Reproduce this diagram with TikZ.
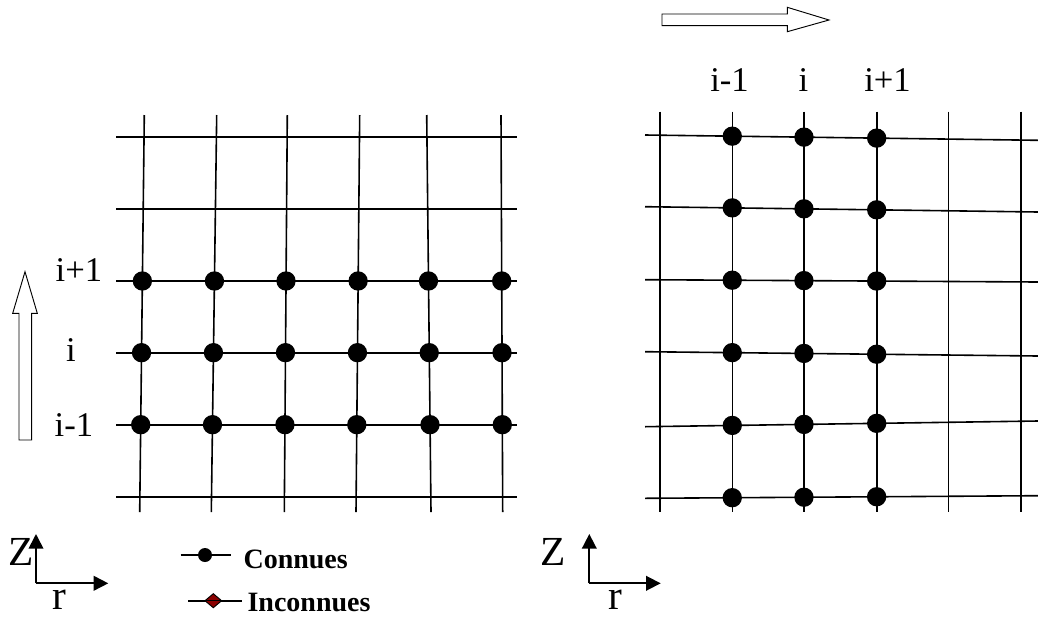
\documentclass[tikz,border=0pt]{standalone}
\usepackage{fontspec}
\setmainfont{Liberation Serif}
\usetikzlibrary{arrows.meta}
\definecolor{darkred}{RGB}{139,0,0}
\begin{document}
\begin{tikzpicture}[x=0.75pt,y=-0.75pt,
  gridline/.style={line width=1.2pt},
  dot/.style={circle,fill=black,inner sep=0pt,minimum size=14.5pt},
  legdot/.style={circle,fill=black,inner sep=0pt,minimum size=10.5pt},
  lbl/.style={font=\fontsize{26}{30}\selectfont,inner sep=0pt,anchor=base},
  axlbl/.style={font=\fontsize{31}{36}\selectfont,inner sep=0pt,anchor=base,text depth=0pt},
  leg/.style={font=\bfseries\fontsize{21}{25}\selectfont,inner sep=0pt,anchor=base west,text depth=0pt},
  hollow/.style={draw=black,line width=0.7pt,fill=white,line join=miter},
  axis/.style={line width=1.3pt,-{Triangle[length=11pt,width=11pt]}}]
\useasboundingbox (0,0) rectangle (1038,618);

% ---------- left grid ----------
\foreach \n/\t/\b in {1/144.3/139.7,2/216.7/211.3,3/287.3/284.3,4/359.7/356,5/426.7/431,6/501/502.7}{
  \coordinate (Lt\n) at (\t,115);
  \coordinate (Lb\n) at (\b,512);
  \draw[gridline] (Lt\n) -- (Lb\n);
}
\foreach \n/\y in {1/136.7,2/209,3/281,4/352.7,5/424.7,6/497}{
  \coordinate (Ll\n) at (116,\y);
  \coordinate (Lr\n) at (517,\y);
  \draw[gridline] (Ll\n) -- (Lr\n);
}
\foreach \c in {1,...,6}{
  \foreach \r in {3,4,5}{
    \node[dot] (Ld\c\r) at (intersection cs: first line={(Lt\c)--(Lb\c)}, second line={(Ll\r)--(Lr\r)}) {};
  }
}

% ---------- right grid ----------
\foreach \n/\x in {1/660,2/732.3,3/804,4/876.7,5/948.3,6/1020.7}{
  \coordinate (Rt\n) at (\x,111.7);
  \coordinate (Rb\n) at (\x,512.3);
  \draw[gridline] (Rt\n) -- (Rb\n);
}
\foreach \n/\a/\b in {1/135/140.3,2/206.7/212,3/279.7/282,4/351.7/356,5/426.7/421,6/498.3/495.7}{
  \coordinate (Rl\n) at (645,\a);
  \coordinate (Rr\n) at (1038,\b);
  \draw[gridline] (Rl\n) -- (Rr\n);
}
\foreach \c in {2,3,4}{
  \foreach \r in {1,...,6}{
    \node[dot] (Rd\c\r) at (intersection cs: first line={(Rt\c)--(Rb\c)}, second line={(Rl\r)--(Rr\r)}) {};
  }
}

% ---------- index labels ----------
\node[lbl] (lip) at (79,281.7) {i+1};
\node[lbl] (li)  at (71,361) {i};
\node[lbl] (lim) at (74,436) {i-1};
\node[lbl] (tim) at (729.5,91.7) {i-1};
\node[lbl] (ti)  at (803.5,91.7) {i};
\node[lbl] (tip) at (887.5,91.7) {i+1};

% ---------- hollow arrows ----------
\draw[hollow] (19,440) -- (19,313.3) -- (12.7,313.3) -- (25,271.7) -- (37.3,313.3) -- (31.7,313.3) -- (31.7,440) -- cycle;
\draw[hollow] (662,14) -- (787.3,14) -- (787.3,7.3) -- (829,20) -- (787.3,31.7) -- (787.3,25.7) -- (662,25.7) -- cycle;

% ---------- axes ----------
\coordinate (Lo) at (36,583.3);
\coordinate (Lx) at (108.3,583.3);
\coordinate (Ly) at (36,534);
\draw[axis] (Lo) -- (Lx);
\draw[axis] (Lo) -- (Ly);
\node[axlbl] (lZ) at (21,565) {Z};
\node[axlbl] (lr) at (59,609) {r};

\coordinate (Ro) at (589.3,583.3);
\coordinate (Rx) at (660.7,583.3);
\coordinate (Ry) at (589.3,534);
\draw[axis] (Ro) -- (Rx);
\draw[axis] (Ro) -- (Ry);
\node[axlbl] (rZ) at (553,565) {Z};
\node[axlbl] (rr) at (615,609) {r};

% ---------- legend ----------
\coordinate (c1) at (180.7,555);
\coordinate (c2) at (230.7,555);
\draw[gridline] (c1) -- (c2);
\node[legdot] (cdot) at (205,555) {};
\node[leg] (ctext) at (243.3,568) {Connues};

\coordinate (u1) at (188.3,600.7);
\coordinate (u2) at (241.7,600.7);
\draw[gridline] (u1) -- (u2);
\draw[fill=darkred,line width=0.7pt] (205,600.7) -- (213.3,593.7) -- (221.6,600.7) -- (213.3,607.7) -- cycle;
\draw[line width=0.7pt] (205,600.7) -- (221.6,600.7);
\node[leg] (utext) at (247.3,611) {Inconnues};
\end{tikzpicture}
\end{document}
